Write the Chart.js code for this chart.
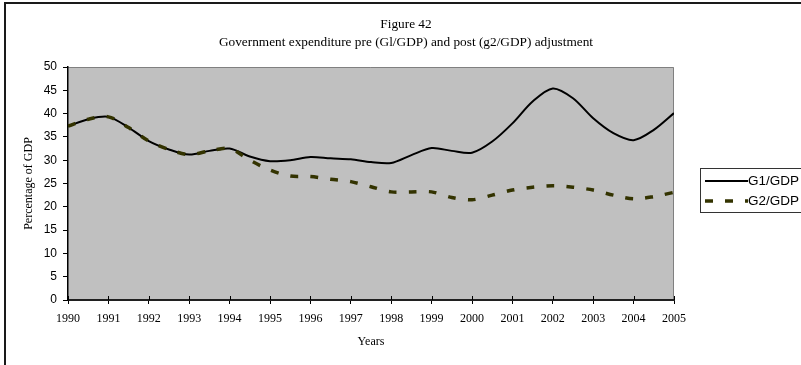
<!DOCTYPE html>
<html>
<head>
<meta charset="utf-8">
<script src="https://cdn.jsdelivr.net/npm/chart.js@4/dist/chart.umd.min.js"></script>
<style>
    body { margin: 0; background: #fff; }
    #wrap { position: relative; width: 801px; height: 365px; }
</style>
</head>
<body>
<div id="wrap"><canvas id="gdpChart" width="801" height="365"></canvas></div>
<script>
// half-yearly readings, 1990 - 2005
var years = [1990, 1990.5, 1991, 1991.5, 1992, 1992.5, 1993, 1993.5, 1994, 1994.5,
             1995, 1995.5, 1996, 1996.5, 1997, 1997.5, 1998, 1998.5, 1999, 1999.5,
             2000, 2000.5, 2001, 2001.5, 2002, 2002.5, 2003, 2003.5, 2004, 2004.5, 2005];
var g1 = [37.3, 38.8, 39.3, 37.0, 34.1, 32.3, 31.2, 32.0, 32.5, 30.8,
          29.8, 30.0, 30.7, 30.4, 30.2, 29.6, 29.4, 31.1, 32.6, 32.0,
          31.6, 34.0, 37.9, 42.6, 45.4, 43.3, 39.0, 35.8, 34.3, 36.5, 40.1];
var g2 = [37.3, 38.8, 39.3, 37.0, 34.1, 32.3, 31.2, 32.0, 32.5, 30.0,
          27.9, 26.6, 26.5, 25.9, 25.4, 24.3, 23.2, 23.2, 23.2, 22.0,
          21.5, 22.5, 23.6, 24.2, 24.5, 24.2, 23.6, 22.5, 21.7, 22.2, 23.1];
var seriesNames = ['G1/GDP', 'G2/GDP'];
var titleLines = ['Figure 42', 'Government expenditure pre (Gl/GDP) and post (g2/GDP) adjustment'];

function points(vals) {
    return vals.map(function(v, i) { return { x: years[i], y: v }; });
}

var serif = '"Liberation Serif", "Times New Roman", serif';
var sans = '"Liberation Sans", Arial, sans-serif';

// frame, grey plot area, title and legend
var excelLook = {
    id: 'excelLook',
    beforeDraw: function(chart) {
        var ctx = chart.ctx, a = chart.chartArea;
        ctx.save();
        ctx.fillStyle = '#fff';
        ctx.fillRect(0, 0, chart.width, chart.height);
        ctx.strokeStyle = '#1a1a1a';
        ctx.lineWidth = 2;
        ctx.strokeRect(5, 3, 900, 500);
        ctx.fillStyle = '#c0c0c0';
        ctx.fillRect(a.left, a.top, a.right - a.left, a.bottom - a.top);
        ctx.strokeStyle = '#808080';
        ctx.lineWidth = 1;
        ctx.beginPath();
        ctx.moveTo(a.left, a.top + 0.5);
        ctx.lineTo(a.right - 0.5, a.top + 0.5);
        ctx.lineTo(a.right - 0.5, a.bottom);
        ctx.stroke();
        ctx.restore();
    },
    afterDraw: function(chart) {
        var ctx = chart.ctx, a = chart.chartArea;
        var xs = chart.scales.x;
        ctx.save();
        // x ticks cross the axis line
        ctx.strokeStyle = '#000';
        ctx.lineWidth = 1;
        ctx.beginPath();
        for (var yr = 1990; yr <= 2005; yr++) {
            var px = Math.round(xs.getPixelForValue(yr)) + 0.5;
            ctx.moveTo(px, a.bottom - 4);
            ctx.lineTo(px, a.bottom);
        }
        ctx.stroke();

        ctx.fillStyle = '#000';
        ctx.textAlign = 'center';
        ctx.textBaseline = 'middle';
        ctx.font = '13.3px ' + serif;
        ctx.fillText(titleLines[0], 406, 25);
        ctx.fillText(titleLines[1], 406, 42.5);

        // legend
        ctx.strokeStyle = '#333';
        ctx.lineWidth = 1;
        ctx.strokeRect(700.5, 168.5, 120, 44);
        ctx.textAlign = 'left';
        ctx.font = '13.5px ' + sans;
        chart.data.datasets.forEach(function(ds, i) {
            var y = 181 + i * 20;
            ctx.save();
            ctx.strokeStyle = ds.borderColor;
            ctx.lineWidth = ds.borderWidth;
            ctx.setLineDash(ds.borderDash || []);
            ctx.beginPath();
            ctx.moveTo(705, y);
            ctx.lineTo(748, y);
            ctx.stroke();
            ctx.restore();
            ctx.fillStyle = '#000';
            ctx.fillText(ds.label, 748, y);
        });
        ctx.restore();
    }
};

var ctx = document.getElementById('gdpChart').getContext('2d');
var gdpChart = new Chart(ctx, {
    type: 'line',
    data: {
        datasets: [{
            label: seriesNames[0],
            data: points(g1),
            borderColor: '#000000',
            borderWidth: 2,
            order: 1
        }, {
            label: seriesNames[1],
            data: points(g2),
            borderColor: '#333300',
            borderWidth: 3.5,
            borderDash: [8, 12],
            order: 0
        }]
    },
    options: {
        responsive: false,
        animation: false,
        layout: { padding: { top: 67, right: 127, bottom: 12, left: 0 } },
        elements: {
            point: { radius: 0 },
            line: { tension: 0.3, fill: false }
        },
        plugins: {
            legend: { display: false },
            title: { display: false },
            tooltip: { enabled: false }
        },
        scales: {
            x: {
                type: 'linear',
                min: 1990,
                max: 2005,
                afterFit: function(s) { s.height = 53; },
                ticks: {
                    stepSize: 1,
                    autoSkip: false,
                    maxRotation: 0,
                    padding: 8,
                    color: '#000',
                    font: { family: serif, size: 12 },
                    callback: function(v) { return String(v); }
                },
                grid: { drawOnChartArea: false, color: '#000', tickLength: 4 },
                border: { color: '#202020', width: 2 },
                title: {
                    display: true,
                    text: 'Years',
                    color: '#000',
                    font: { family: serif, size: 12 },
                    padding: { top: 4, bottom: 4 }
                }
            },
            y: {
                min: 0,
                max: 50,
                afterFit: function(s) { s.width = 68; },
                ticks: {
                    stepSize: 5,
                    padding: 6,
                    color: '#000',
                    font: { family: sans, size: 12 }
                },
                grid: { drawOnChartArea: false, color: '#000', tickLength: 5 },
                border: { color: '#000', width: 1.5 },
                title: {
                    display: true,
                    text: 'Percentage of GDP',
                    color: '#000',
                    font: { family: serif, size: 12 },
                    padding: { top: 22, bottom: 22 }
                }
            }
        }
    },
    plugins: [excelLook]
});
</script>
</body>
</html>
